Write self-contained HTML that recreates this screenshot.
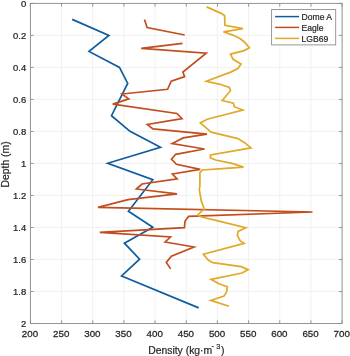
<!DOCTYPE html>
<html><head><meta charset="utf-8"><style>
html,body{margin:0;padding:0;background:#fff;width:350px;height:356px;overflow:hidden}
svg{display:block;will-change:transform}
text{font-family:"Liberation Sans",sans-serif;font-size:10px;fill:#262626;stroke:#262626;stroke-width:0.2px}
.t{stroke:#262626;stroke-width:0.25px}
.al{font-size:10.4px}
.lg{font-size:8.6px}
</style></head><body>
<svg width="350" height="356" viewBox="0 0 350 356">
<rect width="350" height="356" fill="#fff"/>
<g stroke="#eeeeee" stroke-width="0.8" fill="none"><line x1="30.40" y1="3.4" x2="30.40" y2="323.5"/><line x1="30.4" y1="3.40" x2="342.1" y2="3.40"/><line x1="61.57" y1="3.4" x2="61.57" y2="323.5"/><line x1="30.4" y1="35.41" x2="342.1" y2="35.41"/><line x1="92.74" y1="3.4" x2="92.74" y2="323.5"/><line x1="30.4" y1="67.42" x2="342.1" y2="67.42"/><line x1="123.91" y1="3.4" x2="123.91" y2="323.5"/><line x1="30.4" y1="99.43" x2="342.1" y2="99.43"/><line x1="155.08" y1="3.4" x2="155.08" y2="323.5"/><line x1="30.4" y1="131.44" x2="342.1" y2="131.44"/><line x1="186.25" y1="3.4" x2="186.25" y2="323.5"/><line x1="30.4" y1="163.45" x2="342.1" y2="163.45"/><line x1="217.42" y1="3.4" x2="217.42" y2="323.5"/><line x1="30.4" y1="195.46" x2="342.1" y2="195.46"/><line x1="248.59" y1="3.4" x2="248.59" y2="323.5"/><line x1="30.4" y1="227.47" x2="342.1" y2="227.47"/><line x1="279.76" y1="3.4" x2="279.76" y2="323.5"/><line x1="30.4" y1="259.48" x2="342.1" y2="259.48"/><line x1="310.93" y1="3.4" x2="310.93" y2="323.5"/><line x1="30.4" y1="291.49" x2="342.1" y2="291.49"/><line x1="342.10" y1="3.4" x2="342.10" y2="323.5"/><line x1="30.4" y1="323.50" x2="342.1" y2="323.50"/></g>
<g fill="none" stroke-width="1.7" stroke-linejoin="miter" stroke-linecap="butt">
<polyline stroke="#0f5c9e" points="72.2,19.4 108.9,35.4 89.0,51.4 119.5,67.4 127.7,83.4 111.5,115.7 130.0,131.3 160.5,147.3 107.7,163.3 152.8,179.7 128.4,211.3 152.8,227.2 124.4,243.2 139.6,259.2 121.6,276.0 198.7,307.9"/>
<polyline stroke="#c24d1d" points="144.5,19.6 147.1,27.6 184.7,35.0"/>
<polyline stroke="#c24d1d" points="182.5,43.4 141.2,48.4 206.2,53.1 182.9,72.0 184.6,76.6 171.2,81.1 167.6,89.3 121.9,94.0 128.8,98.9 112.8,104.1 176.9,113.5 182.0,118.7 147.3,124.5 152.9,128.9 207.0,134.1 183.2,137.9 172.2,143.6 204.5,149.0 175.7,154.3 171.5,159.3 176.4,164.3 200.2,169.3 172.4,174.0 177.1,178.9 142.0,184.0 136.4,189.0 177.0,193.8 128.0,199.6 98.0,207.4 312.5,212.0 188.6,216.4 185.0,221.2 184.4,227.6 99.8,232.4 170.5,237.0 165.1,242.0 194.0,247.0 171.4,256.2 166.3,262.4 170.6,268.9"/>
<polyline stroke="#e0a927" points="206.6,6.9 220.6,13.1 224.6,15.4 224.9,25.4 243.0,28.6 223.4,31.8 232.7,35.1 239.6,38.3 244.1,41.7 249.4,47.8 244.1,50.6 230.5,54.1 233.1,59.3 241.0,64.0 237.9,68.6 230.7,72.1 206.3,81.3 220.0,84.3 229.3,87.4 230.5,90.7 222.2,100.5 233.4,103.1 234.3,106.7 242.8,110.0 207.2,119.2 200.3,122.9 207.1,128.6 211.1,132.1 237.9,138.6 245.0,142.9 250.9,147.9 210.5,155.0 210.3,157.9 215.7,160.0 232.9,163.6 243.5,167.1 218.6,168.9 202.1,170.0 199.9,172.9 199.9,185.7 199.3,189.7 200.0,193.6 201.4,201.4 203.6,207.1 204.6,209.3 201.4,211.4 197.9,215.0 201.6,217.0 218.9,221.1 245.8,227.7 238.1,231.4 237.4,235.7 240.3,240.9 244.2,243.4 203.4,254.2 208.2,260.1 212.9,262.7 241.1,266.7 248.1,269.6 242.0,273.0 211.0,279.3 218.9,283.8 227.4,286.7 226.6,291.9 224.0,296.1 210.8,300.4 229.0,306.2"/>
</g>
<g stroke="#8c8c8c" stroke-width="0.9" fill="none">
<rect x="30.4" y="3.4" width="311.70" height="320.10"/>
<line x1="30.40" y1="323.5" x2="30.40" y2="320.3"/><line x1="30.40" y1="3.4" x2="30.40" y2="6.6"/><line x1="30.4" y1="3.40" x2="33.6" y2="3.40"/><line x1="342.1" y1="3.40" x2="338.90000000000003" y2="3.40"/><line x1="61.57" y1="323.5" x2="61.57" y2="320.3"/><line x1="61.57" y1="3.4" x2="61.57" y2="6.6"/><line x1="30.4" y1="35.41" x2="33.6" y2="35.41"/><line x1="342.1" y1="35.41" x2="338.90000000000003" y2="35.41"/><line x1="92.74" y1="323.5" x2="92.74" y2="320.3"/><line x1="92.74" y1="3.4" x2="92.74" y2="6.6"/><line x1="30.4" y1="67.42" x2="33.6" y2="67.42"/><line x1="342.1" y1="67.42" x2="338.90000000000003" y2="67.42"/><line x1="123.91" y1="323.5" x2="123.91" y2="320.3"/><line x1="123.91" y1="3.4" x2="123.91" y2="6.6"/><line x1="30.4" y1="99.43" x2="33.6" y2="99.43"/><line x1="342.1" y1="99.43" x2="338.90000000000003" y2="99.43"/><line x1="155.08" y1="323.5" x2="155.08" y2="320.3"/><line x1="155.08" y1="3.4" x2="155.08" y2="6.6"/><line x1="30.4" y1="131.44" x2="33.6" y2="131.44"/><line x1="342.1" y1="131.44" x2="338.90000000000003" y2="131.44"/><line x1="186.25" y1="323.5" x2="186.25" y2="320.3"/><line x1="186.25" y1="3.4" x2="186.25" y2="6.6"/><line x1="30.4" y1="163.45" x2="33.6" y2="163.45"/><line x1="342.1" y1="163.45" x2="338.90000000000003" y2="163.45"/><line x1="217.42" y1="323.5" x2="217.42" y2="320.3"/><line x1="217.42" y1="3.4" x2="217.42" y2="6.6"/><line x1="30.4" y1="195.46" x2="33.6" y2="195.46"/><line x1="342.1" y1="195.46" x2="338.90000000000003" y2="195.46"/><line x1="248.59" y1="323.5" x2="248.59" y2="320.3"/><line x1="248.59" y1="3.4" x2="248.59" y2="6.6"/><line x1="30.4" y1="227.47" x2="33.6" y2="227.47"/><line x1="342.1" y1="227.47" x2="338.90000000000003" y2="227.47"/><line x1="279.76" y1="323.5" x2="279.76" y2="320.3"/><line x1="279.76" y1="3.4" x2="279.76" y2="6.6"/><line x1="30.4" y1="259.48" x2="33.6" y2="259.48"/><line x1="342.1" y1="259.48" x2="338.90000000000003" y2="259.48"/><line x1="310.93" y1="323.5" x2="310.93" y2="320.3"/><line x1="310.93" y1="3.4" x2="310.93" y2="6.6"/><line x1="30.4" y1="291.49" x2="33.6" y2="291.49"/><line x1="342.1" y1="291.49" x2="338.90000000000003" y2="291.49"/><line x1="342.10" y1="323.5" x2="342.10" y2="320.3"/><line x1="342.10" y1="3.4" x2="342.10" y2="6.6"/><line x1="30.4" y1="323.50" x2="33.6" y2="323.50"/><line x1="342.1" y1="323.50" x2="338.90000000000003" y2="323.50"/>
</g>
<g><text class="t" style="font-size:9.4px" transform="translate(30.00,336.9) scale(1.04,1)" text-anchor="middle">200</text><text class="t" style="font-size:9.8px" transform="translate(26.2,7.30) scale(0.965,1)" text-anchor="end">0</text><text class="t" style="font-size:9.4px" transform="translate(61.17,336.9) scale(1.04,1)" text-anchor="middle">250</text><text class="t" style="font-size:9.8px" transform="translate(26.2,39.31) scale(0.965,1)" text-anchor="end">0.2</text><text class="t" style="font-size:9.4px" transform="translate(92.34,336.9) scale(1.04,1)" text-anchor="middle">300</text><text class="t" style="font-size:9.8px" transform="translate(26.2,71.32) scale(0.965,1)" text-anchor="end">0.4</text><text class="t" style="font-size:9.4px" transform="translate(123.51,336.9) scale(1.04,1)" text-anchor="middle">350</text><text class="t" style="font-size:9.8px" transform="translate(26.2,103.33) scale(0.965,1)" text-anchor="end">0.6</text><text class="t" style="font-size:9.4px" transform="translate(154.68,336.9) scale(1.04,1)" text-anchor="middle">400</text><text class="t" style="font-size:9.8px" transform="translate(26.2,135.34) scale(0.965,1)" text-anchor="end">0.8</text><text class="t" style="font-size:9.4px" transform="translate(185.85,336.9) scale(1.04,1)" text-anchor="middle">450</text><text class="t" style="font-size:9.8px" transform="translate(26.2,167.35) scale(0.965,1)" text-anchor="end">1</text><text class="t" style="font-size:9.4px" transform="translate(217.02,336.9) scale(1.04,1)" text-anchor="middle">500</text><text class="t" style="font-size:9.8px" transform="translate(26.2,199.36) scale(0.965,1)" text-anchor="end">1.2</text><text class="t" style="font-size:9.4px" transform="translate(248.19,336.9) scale(1.04,1)" text-anchor="middle">550</text><text class="t" style="font-size:9.8px" transform="translate(26.2,231.37) scale(0.965,1)" text-anchor="end">1.4</text><text class="t" style="font-size:9.4px" transform="translate(279.36,336.9) scale(1.04,1)" text-anchor="middle">600</text><text class="t" style="font-size:9.8px" transform="translate(26.2,263.38) scale(0.965,1)" text-anchor="end">1.6</text><text class="t" style="font-size:9.4px" transform="translate(310.53,336.9) scale(1.04,1)" text-anchor="middle">650</text><text class="t" style="font-size:9.8px" transform="translate(26.2,295.39) scale(0.965,1)" text-anchor="end">1.8</text><text class="t" style="font-size:9.4px" transform="translate(341.70,336.9) scale(1.04,1)" text-anchor="middle">700</text><text class="t" style="font-size:9.8px" transform="translate(26.2,327.40) scale(0.965,1)" text-anchor="end">2</text></g>
<text class="al" x="186.3" y="353.6" text-anchor="middle">Density (kg·m<tspan font-size="7.3" dx="-0.7" dy="-5.8">-</tspan><tspan font-size="7.3" dx="2.2" dy="1">3</tspan><tspan dx="0.7" dy="4.8">)</tspan></text>
<text class="al" transform="translate(8.8,164.4) rotate(-90)" text-anchor="middle">Depth (m)</text>
<rect x="271.6" y="9.6" width="64.1" height="35.3" fill="#fff" stroke="#8c8c8c" stroke-width="0.9"/>
<g stroke-width="1.5">
<line x1="275.1" y1="16.6" x2="299.1" y2="16.6" stroke="#0f5c9e"/>
<line x1="275.1" y1="27.4" x2="299.1" y2="27.4" stroke="#c24d1d"/>
<line x1="275.1" y1="38.4" x2="299.1" y2="38.4" stroke="#e0a927"/>
</g>
<text class="lg" x="301.5" y="19.9">Dome A</text>
<text class="lg" x="301.5" y="31.1">Eagle</text>
<text class="lg" x="301.5" y="41.6">LGB69</text>
</svg>
</body></html>
